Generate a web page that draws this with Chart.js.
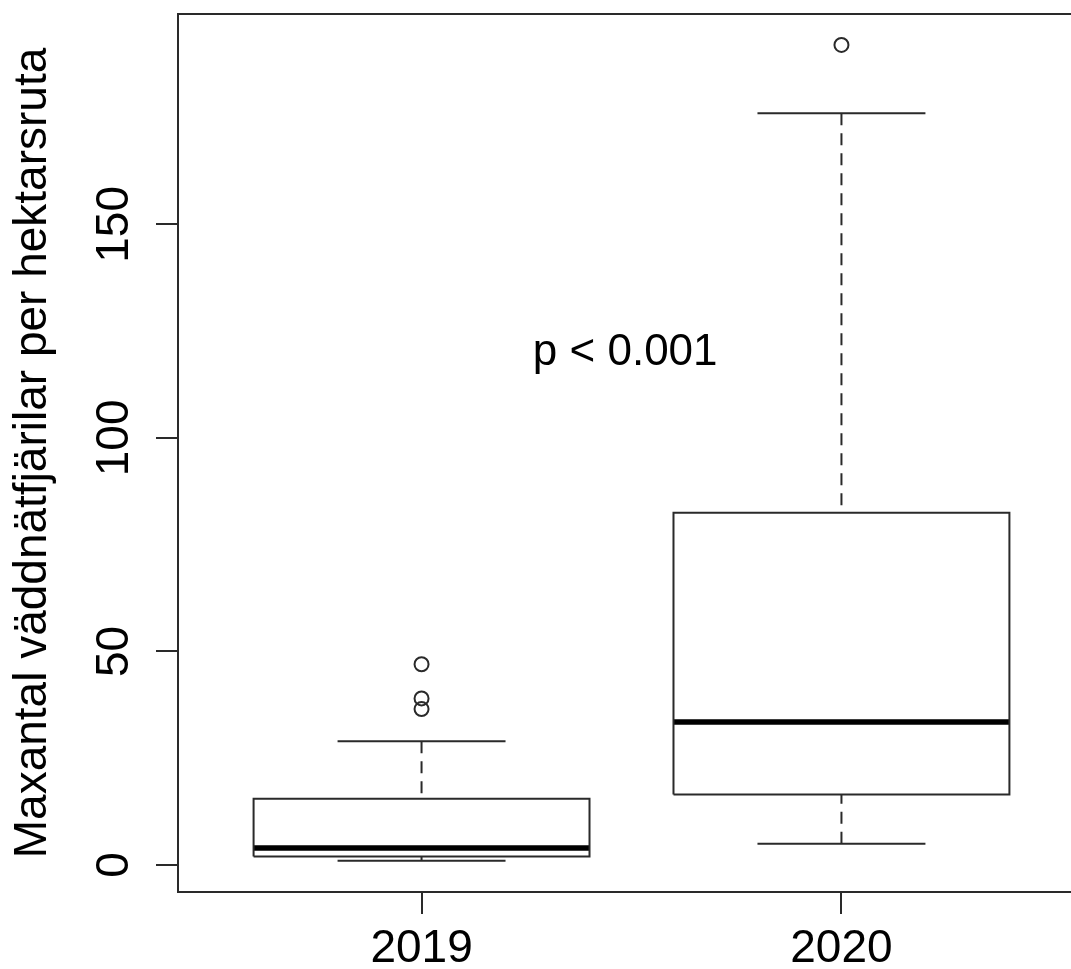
<!DOCTYPE html>
<html>
<head>
<meta charset="utf-8">
<script src="https://cdn.jsdelivr.net/npm/chart.js@4.4.1/dist/chart.umd.min.js"></script>
<style>
html,body{margin:0;padding:0;background:#fff;overflow:hidden;width:1071px;height:969px}
canvas{display:block}
</style>
</head>
<body>
<canvas id="c" width="1100" height="969"></canvas>
<script>
// ---- data ----
const categories = ['2019', '2020'];
const whiskerLow = [1, 5];
const q1 = [2, 16.5];
const median = [4, 33.5];
const q3 = [15.5, 82.5];
const whiskerHigh = [29, 176];
const outliers = [[47, 39, 36.5], [192]];
const yTicks = [0, 50, 100, 150];
const yTitle = 'Maxantal väddnätfjärilar per hektarsruta';
const annotationText = 'p < 0.001';
const annotationAt = [1.485, 120];

// ---- styling constants ----
const BOX_HALF = 0.4, CAP_HALF = 0.2;
const LINE = '#2a2a2a';
const FONT = '"Liberation Sans", Arial, Helvetica, sans-serif';

Chart.defaults.font.family = FONT;
Chart.defaults.color = '#000';

const gap = x => ({x: x, y: null});
const boxPts = [], medPts = [], whiskPts = [], capPts = [], outPts = [];
categories.forEach((c, i) => {
  const x = i + 1;
  boxPts.push({x: x - BOX_HALF, y: q1[i]}, {x: x + BOX_HALF, y: q1[i]},
              {x: x + BOX_HALF, y: q3[i]}, {x: x - BOX_HALF, y: q3[i]},
              {x: x - BOX_HALF, y: q1[i]}, gap(x));
  medPts.push({x: x - BOX_HALF, y: median[i]}, {x: x + BOX_HALF, y: median[i]}, gap(x));
  whiskPts.push({x: x, y: whiskerHigh[i]}, {x: x, y: q3[i]}, gap(x),
                {x: x, y: whiskerLow[i]}, {x: x, y: q1[i]}, gap(x));
  capPts.push({x: x - CAP_HALF, y: whiskerHigh[i]}, {x: x + CAP_HALF, y: whiskerHigh[i]}, gap(x),
              {x: x - CAP_HALF, y: whiskerLow[i]}, {x: x + CAP_HALF, y: whiskerLow[i]}, gap(x));
  outliers[i].forEach(v => outPts.push({x: x, y: v}));
});

const lineDs = (label, data, extra) => Object.assign({
  type: 'line', label, data, borderColor: LINE, borderWidth: 2, pointRadius: 0,
  fill: false, spanGaps: false, tension: 0, borderCapStyle: 'butt', borderJoinStyle: 'miter'
}, extra || {});

const framePlugin = {
  id: 'frame',
  afterDatasetsDraw(chart) {
    const {ctx, chartArea: a} = chart;
    ctx.save();
    ctx.strokeStyle = LINE; ctx.lineWidth = 2;
    ctx.strokeRect(a.left, a.top, a.right - a.left, a.bottom - a.top);
    ctx.restore();
  }
};
const annotationPlugin = {
  id: 'ptext',
  afterDraw(chart) {
    const {ctx, scales} = chart;
    ctx.save();
    ctx.font = '44px ' + FONT;
    ctx.fillStyle = '#000';
    ctx.textAlign = 'center';
    ctx.textBaseline = 'middle';
    ctx.fillText(annotationText, scales.x.getPixelForValue(annotationAt[0]), scales.y.getPixelForValue(annotationAt[1]));
    ctx.restore();
  }
};

const gridOpts = {drawOnChartArea: false, drawTicks: true, tickLength: 22, tickWidth: 2, tickColor: LINE, lineWidth: 2, color: LINE};

new Chart(document.getElementById('c'), {
  type: 'line',
  data: {
    datasets: [
      lineDs('box', boxPts),
      lineDs('whiskers', whiskPts, {borderDash: [12, 8]}),
      lineDs('caps', capPts),
      lineDs('median', medPts, {borderColor: '#000', borderWidth: 5.5}),
      {type: 'line', label: 'outliers', data: outPts, showLine: false, pointRadius: 7,
       pointStyle: 'circle', pointBorderWidth: 2, pointBorderColor: LINE,
       pointBackgroundColor: 'rgba(0,0,0,0)', borderColor: LINE}
    ]
  },
  options: {
    responsive: false,
    animation: false,
    events: [],
    layout: {padding: {left: 0, top: 14, right: 15, bottom: 0}},
    plugins: {legend: {display: false}, tooltip: {enabled: false}},
    scales: {
      x: {
        type: 'linear', min: 0.42, max: 2.58,
        afterBuildTicks: s => { s.ticks = categories.map((c, i) => ({value: i + 1})); },
        afterFit: s => { s.height = 77; s.paddingLeft = 0; s.paddingRight = 0; },
        grid: gridOpts,
        border: {display: true, color: LINE, width: 2},
        ticks: {callback: (v, idx) => categories[idx], font: {size: 46}, color: '#000',
                padding: 8, maxRotation: 0, minRotation: 0, autoSkip: false}
      },
      y: {
        type: 'linear', min: -6.32, max: 199.25,
        afterBuildTicks: s => { s.ticks = yTicks.map(v => ({value: v})); },
        afterFit: s => { s.width = 178; s.paddingTop = 0; s.paddingBottom = 0; },
        grid: gridOpts,
        border: {display: true, color: LINE, width: 2},
        ticks: {minRotation: 90, maxRotation: 90, crossAlign: 'center', padding: 2,
                font: {size: 46}, color: '#000', autoSkip: false},
        title: {display: true, text: yTitle, font: {size: 46}, color: '#000',
                padding: {top: 6, bottom: 0}}
      }
    }
  },
  plugins: [framePlugin, annotationPlugin]
});
</script>
</body>
</html>
